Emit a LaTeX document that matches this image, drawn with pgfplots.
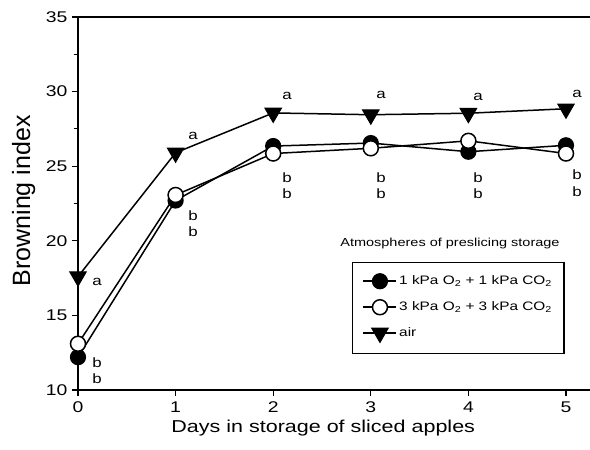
\documentclass[border=0pt]{standalone}
\usepackage{fontspec}
\setmainfont[FakeStretch=1.25]{Liberation Sans}
\newfontfamily\ylabfont{Liberation Sans}
\usepackage{pgfplots}
\pgfplotsset{compat=1.18}
\begin{document}
\begin{tikzpicture}
\begin{axis}[
  at={(78pt,60pt)}, anchor=south west,
  scale only axis, width=512pt, height=373pt,
  xmin=0, xmax=5.246, ymin=10, ymax=35,
  axis lines=left, axis line style={-, line width=1.5pt},
  xtick={0,1,2,3,4,5}, ytick={10,15,20,25,30,35},
  minor y tick num=1,
  tick align=outside,
  major tick length=6pt, minor tick length=4pt,
  tick style={line width=1.2pt, black},
  /pgf/number format/assume math mode=true,
  ticklabel style={font=\fontsize{15.5}{17}\selectfont},
  xticklabel style={yshift=-2pt},
  yticklabel style={xshift=-1pt},
  xlabel={Days in storage of sliced apples},
  xlabel style={at={(axis description cs:0.479,-0.102)}, anchor=center, font=\fontsize{17.2}{20}\selectfont},
  ylabel={Browning index},
  ylabel style={at={(axis description cs:-0.106,0.507)}, anchor=center, font=\ylabfont\fontsize{25}{28}\selectfont},
  legend image code/.code={\draw[mark repeat=2,mark phase=2,#1] plot coordinates {(0pt,0pt) (16.5pt,0pt) (33pt,0pt)};},
  legend style={at={(axis cs:2.807,18.58)}, anchor=north west, draw=black, line width=1.5pt,
    font=\fontsize{12.3}{14}\selectfont, row sep=11pt, inner xsep=10pt, inner ysep=11pt,
    nodes={inner xsep=2pt}},
  legend cell align=left,
  clip=false,
]
\draw[line width=1.5pt] (rel axis cs:0,1) -- (rel axis cs:1,1);
\addplot[black, line width=1.5pt, mark=*, mark size=7.5pt, mark options={fill=black, line width=1.2pt}]
 coordinates {(0,12.2) (1,22.7) (2,26.35) (3,26.55) (4,25.97) (5,26.4)};
\addlegendentry{1 kPa O\textsubscript{2} + 1 kPa CO\textsubscript{2}}
\addplot[black, line width=1.5pt, mark=*, mark size=7.5pt, mark options={fill=white, line width=1.5pt}]
 coordinates {(0,13.1) (1,23.07) (2,25.85) (3,26.2) (4,26.7) (5,25.85)};
\addlegendentry{3 kPa O\textsubscript{2} + 3 kPa CO\textsubscript{2}}
\addplot[black, line width=1.5pt, mark=triangle*, mark size=9.5pt, mark options={fill=black, rotate=180, line width=1pt}]
 coordinates {(0,17.6) (1,25.9) (2,28.57) (3,28.45) (4,28.55) (5,28.85)};
\addlegendentry{air}
\node[font=\fontsize{11.6}{14}\selectfont] at (axis cs:3.811,19.85) {Atmospheres of preslicing storage};
\begin{scope}[every node/.style={font=\fontsize{13.5}{15}\selectfont}]
\node at (axis cs:0.195,17.24) {a};
\node at (axis cs:0.195,11.81) {b};
\node at (axis cs:0.195,10.74) {b};
\node at (axis cs:1.178,27.02) {a};
\node at (axis cs:1.178,21.66) {b};
\node at (axis cs:1.178,20.59) {b};
\node at (axis cs:2.141,29.70) {a};
\node at (axis cs:2.141,24.21) {b};
\node at (axis cs:2.141,23.14) {b};
\node at (axis cs:3.104,29.77) {a};
\node at (axis cs:3.104,24.21) {b};
\node at (axis cs:3.104,23.14) {b};
\node at (axis cs:4.098,29.64) {a};
\node at (axis cs:4.098,24.21) {b};
\node at (axis cs:4.098,23.14) {b};
\node at (axis cs:5.113,29.84) {a};
\node at (axis cs:5.113,24.41) {b};
\node at (axis cs:5.113,23.27) {b};
\end{scope}
\end{axis}
\pgfresetboundingbox
\path (0,0) rectangle (590pt,450pt);
\end{tikzpicture}
\end{document}
